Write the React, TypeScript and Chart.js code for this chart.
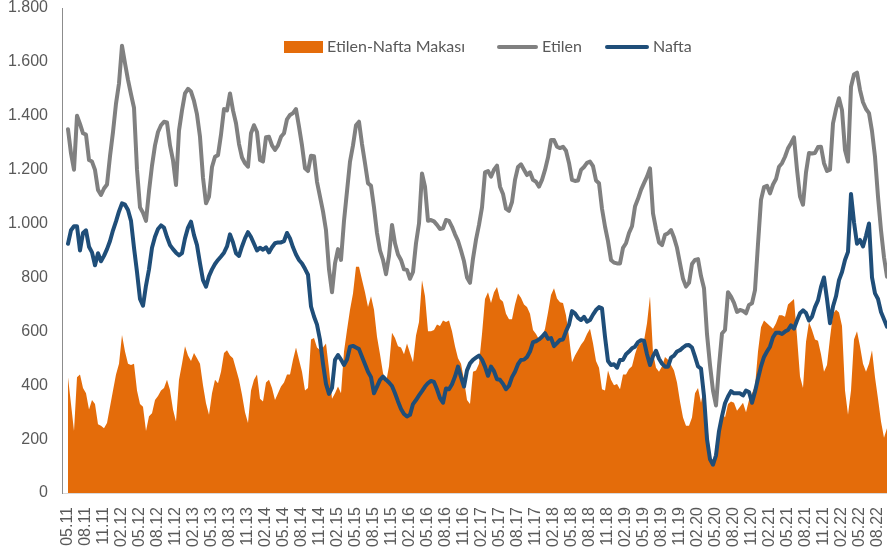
import { useEffect, useRef } from "react";
import { Chart, registerables } from "chart.js";

Chart.register(...registerables);

// Quarterly tick labels (one every 6 half-month points)
const quarterLabels = [
  "05.11", "08.11", "11.11", "02.12", "05.12", "08.12", "11.12", "02.13", "05.13", "08.13",
  "11.13", "02.14", "05.14", "08.14", "11.14", "02.15", "05.15", "08.15", "11.15", "02.16",
  "05.16", "08.16", "11.16", "02.17", "05.17", "08.17", "11.17", "02.18", "05.18", "08.18",
  "11.18", "02.19", "05.19", "08.19", "11.19", "02.20", "05.20", "08.20", "11.20", "02.21",
  "05.21", "08.21", "11.21", "02.22", "05.22", "08.22",
];

const etilen = [
  1350, 1260, 1200, 1400, 1370, 1335, 1330, 1236, 1230, 1199, 1125, 1106, 1130, 1145, 1250, 1340, 1445, 1520, 1660, 1595, 1533, 1480, 1430, 1200, 1060, 1040, 1010, 1120, 1215, 1290, 1340, 1365, 1378, 1375,
  1290, 1235, 1143, 1345, 1420, 1483, 1500, 1490, 1455, 1405, 1322, 1170, 1075, 1100, 1210, 1248, 1254, 1330, 1425, 1420, 1483, 1420, 1372, 1295, 1245, 1224, 1211, 1335, 1365, 1340, 1236, 1230, 1320, 1322, 1290,
  1273, 1290, 1322, 1335, 1387, 1403, 1410, 1425, 1360, 1290, 1205, 1195, 1252, 1250, 1155, 1100, 1045, 975, 830, 745, 852, 905, 865, 1010, 1120, 1230, 1290, 1365, 1378, 1295, 1224, 1150, 1140, 1060, 965,
  900, 865, 812, 880, 995, 927, 885, 865, 830, 828, 795, 820, 927, 1000, 1186, 1137, 1010, 1013, 1008, 995, 980, 982, 1013, 1010, 988, 960, 936, 900, 860, 800, 780, 870, 940, 995, 1060,
  1190, 1195, 1174, 1200, 1215, 1137, 1110, 1055, 1047, 1080, 1162, 1210, 1220, 1200, 1180, 1190, 1162, 1155, 1137, 1162, 1199, 1245, 1310, 1310, 1285, 1280, 1285, 1270, 1225, 1162, 1158, 1160, 1199, 1210, 1225,
  1230, 1213, 1160, 1150, 1055, 989, 935, 865, 855, 852, 852, 910, 927, 965, 990, 1063, 1092, 1125, 1150, 1174, 1205, 1038, 980, 930, 920, 958, 964, 976, 948, 910, 852, 795, 766, 780, 850,
  865, 868, 805, 760, 590, 475, 380, 325, 470, 592, 605, 745, 729, 706, 672, 679, 676, 667, 698, 704, 753, 925, 1088, 1135, 1140, 1112, 1145, 1165, 1211, 1224, 1248, 1279, 1298, 1320, 1200,
  1100, 1070, 1190, 1262, 1260, 1262, 1284, 1285, 1224, 1195, 1200, 1372, 1424, 1465, 1421, 1273, 1230, 1508, 1553, 1560, 1496, 1450, 1425, 1410, 1343, 1248, 1100, 975, 875, 803,
];

const nafta = [
  925, 975, 990, 990, 900, 965, 975, 914, 893, 845, 890, 860, 880, 905, 935, 975, 1008, 1045, 1075, 1070, 1050, 1010, 910, 820, 720, 695, 770, 830, 910, 951, 980, 993, 985, 950,
  920, 905, 892, 882, 890, 945, 985, 1007, 957, 920, 852, 790, 766, 805, 830, 850, 865, 878, 892, 915, 960, 930, 890, 880, 915, 945, 968, 950, 925, 900, 910, 903, 912, 893, 912,
  927, 930, 930, 935, 965, 945, 912, 885, 865, 852, 832, 810, 692, 655, 625, 568, 480, 405, 368, 390, 494, 512, 495, 475, 495, 543, 546, 540, 534, 506, 478, 450, 430, 370, 395,
  420, 432, 420, 410, 397, 370, 340, 312, 293, 284, 290, 330, 345, 362, 378, 395, 408, 416, 412, 385, 352, 335, 388, 385, 404, 432, 469, 430, 395, 455, 481, 494, 502, 510, 495,
  469, 435, 469, 452, 422, 420, 405, 385, 398, 430, 450, 478, 494, 495, 505, 525, 560, 563, 570, 580, 593, 572, 575, 545, 556, 568, 570, 600, 625, 675, 667, 650, 642, 654, 636,
  642, 662, 679, 690, 685, 580, 490, 475, 478, 465, 494, 494, 515, 525, 537, 543, 560, 567, 565, 515, 475, 508, 528, 498, 480, 469, 469, 502, 510, 525, 530, 540, 548, 549, 540,
  506, 470, 462, 360, 200, 125, 105, 140, 230, 285, 333, 358, 378, 370, 370, 370, 362, 380, 375, 335, 376, 425, 470, 505, 525, 543, 578, 595, 595, 590, 599, 605, 622, 610, 640,
  667, 678, 668, 640, 654, 690, 715, 765, 800, 720, 630, 692, 730, 790, 820, 865, 895, 1110, 1005, 925, 939, 915, 955, 1000, 800, 741, 720, 672, 645, 617,
];

const makas = [
  430, 330, 230, 430, 440, 390, 370, 310, 345, 330, 255, 250, 240, 260, 320, 380, 440, 480, 586, 525, 480, 475, 480, 380, 330, 320, 230, 285, 296, 345, 360, 380, 390, 420,
  382, 310, 265, 420, 480, 545, 510, 490, 520, 500, 480, 400, 333, 290, 370, 420, 407, 450, 520, 530, 510, 500, 460, 420, 365, 300, 260, 380, 420, 440, 350, 340, 410, 420, 390,
  345, 370, 395, 410, 440, 440, 495, 540, 495, 450, 380, 390, 570, 575, 540, 531, 540, 555, 460, 350, 370, 395, 370, 525, 605, 680, 740, 840, 840, 791, 745, 690, 730, 680, 580,
  515, 445, 410, 470, 595, 575, 545, 540, 515, 555, 520, 485, 585, 635, 790, 730, 600, 600, 605, 625, 620, 640, 635, 640, 600, 545, 500, 480, 420, 345, 330, 450, 455, 480, 590,
  720, 745, 705, 745, 765, 720, 710, 665, 645, 645, 700, 740, 725, 700, 690, 665, 605, 590, 570, 575, 610, 670, 735, 760, 722, 708, 705, 660, 580, 485, 510, 530, 550, 565, 590,
  610, 556, 490, 465, 385, 380, 455, 420, 400, 405, 385, 440, 440, 460, 470, 515, 550, 558, 565, 630, 730, 520, 465, 450, 470, 505, 495, 475, 455, 410, 340, 280, 250, 250, 280,
  370, 390, 335, 395, 260, 150, 95, 180, 250, 300, 280, 330, 340, 335, 305, 320, 335, 300, 345, 370, 395, 525, 615, 640, 630, 620, 610, 630, 660, 660, 654, 700, 710, 720, 580,
  432, 390, 560, 635, 605, 570, 565, 515, 450, 475, 575, 665, 680, 670, 620, 380, 290, 380, 570, 600, 545, 480, 450, 480, 530, 430, 350, 265, 205, 240,
];

const seriesNames = ["Etilen-Nafta Makası", "Etilen", "Nafta"];
const seriesColors = ["#E46C0A", "#808080", "#1F4E79"];

const POINTS_PER_QUARTER = 6;

const toXY = (arr: number[]) => arr.map((v, i) => ({ x: i, y: v }));

const fmt = (v: number) => String(v).replace(/\B(?=(\d{3})+(?!\d))/g, ".");

const insideLegend = {
  id: "insideLegend",
  afterDraw(chart: any) {
    const ctx = chart.ctx as CanvasRenderingContext2D;
    ctx.save();
    ctx.font = "16px Lato";
    ctx.textBaseline = "middle";
    const y = 47;
    const markerX = [284, 497, 605];
    const markerW = [39, 41, 44];
    markerX.forEach((mx, k) => {
      if (k === 0) {
        ctx.fillStyle = seriesColors[0];
        ctx.fillRect(mx, y - 6, markerW[k], 12);
      } else {
        ctx.strokeStyle = seriesColors[k];
        ctx.lineWidth = 4;
        ctx.lineCap = "round";
        ctx.beginPath();
        ctx.moveTo(mx + 2, y);
        ctx.lineTo(mx + markerW[k] - 2, y);
        ctx.stroke();
      }
      ctx.fillStyle = "#595959";
      ctx.fillText(seriesNames[k], mx + markerW[k] + 4, y);
    });
    ctx.restore();
  },
};

export default function App() {
  const ref = useRef<HTMLCanvasElement | null>(null);

  useEffect(() => {
    document.body.style.margin = "0";
    const canvas = ref.current;
    if (!canvas) return;
    const tickFont = { family: "'Liberation Sans', Arial, sans-serif", size: 16 };
    const chart = new Chart(canvas, {
      type: "line",
      data: {
        datasets: [
          {
            label: seriesNames[2],
            data: toXY(nafta),
            borderColor: seriesColors[2],
            borderWidth: 4,
            pointRadius: 0,
            tension: 0,
            fill: false,
            borderJoinStyle: "round",
            borderCapStyle: "round",
          },
          {
            label: seriesNames[1],
            data: toXY(etilen),
            borderColor: seriesColors[1],
            borderWidth: 4,
            pointRadius: 0,
            tension: 0,
            fill: false,
            borderJoinStyle: "round",
            borderCapStyle: "round",
          },
          {
            label: seriesNames[0],
            data: toXY(makas),
            borderColor: seriesColors[0],
            backgroundColor: seriesColors[0],
            borderWidth: 0,
            pointRadius: 0,
            tension: 0,
            fill: "origin",
          },
        ],
      },
      options: {
        responsive: false,
        animation: false,
        layout: { padding: { left: 0, right: 0, top: 8, bottom: 0 } },
        plugins: {
          legend: { display: false },
          tooltip: { enabled: false },
        },
        scales: {
          x: {
            type: "linear",
            min: -2,
            max: 273,
            grid: { display: false, drawTicks: false },
            border: { display: true, color: "#d9d9d9", width: 1 },
            afterBuildTicks: (scale: any) => {
              scale.ticks = quarterLabels.map((_, q) => ({ value: q * POINTS_PER_QUARTER }));
            },
            afterFit: (scale: any) => {
              scale.height = 62;
              scale.paddingLeft = 0;
              scale.paddingRight = 0;
            },
            ticks: {
              autoSkip: false,
              maxRotation: 90,
              minRotation: 90,
              padding: 14,
              color: "#595959",
              font: tickFont,
              callback: (value: any) => quarterLabels[Math.round(Number(value) / POINTS_PER_QUARTER)] ?? "",
            },
          },
          y: {
            min: 0,
            max: 1800,
            grid: { display: false, drawTicks: false },
            border: { display: true, color: "#8c8c8c", width: 1 },
            afterFit: (scale: any) => {
              scale.width = 62;
              scale.paddingTop = 0;
              scale.paddingBottom = 0;
            },
            ticks: {
              stepSize: 200,
              padding: 14,
              color: "#595959",
              font: tickFont,
              callback: (value: any) => fmt(Number(value)),
            },
          },
        },
      },
      plugins: [insideLegend],
    } as any);
    return () => chart.destroy();
  }, []);

  return (
    <div style={{ width: 887, height: 555 }}>
      <canvas ref={ref} width={887} height={555} style={{ display: "block" }} />
    </div>
  );
}
